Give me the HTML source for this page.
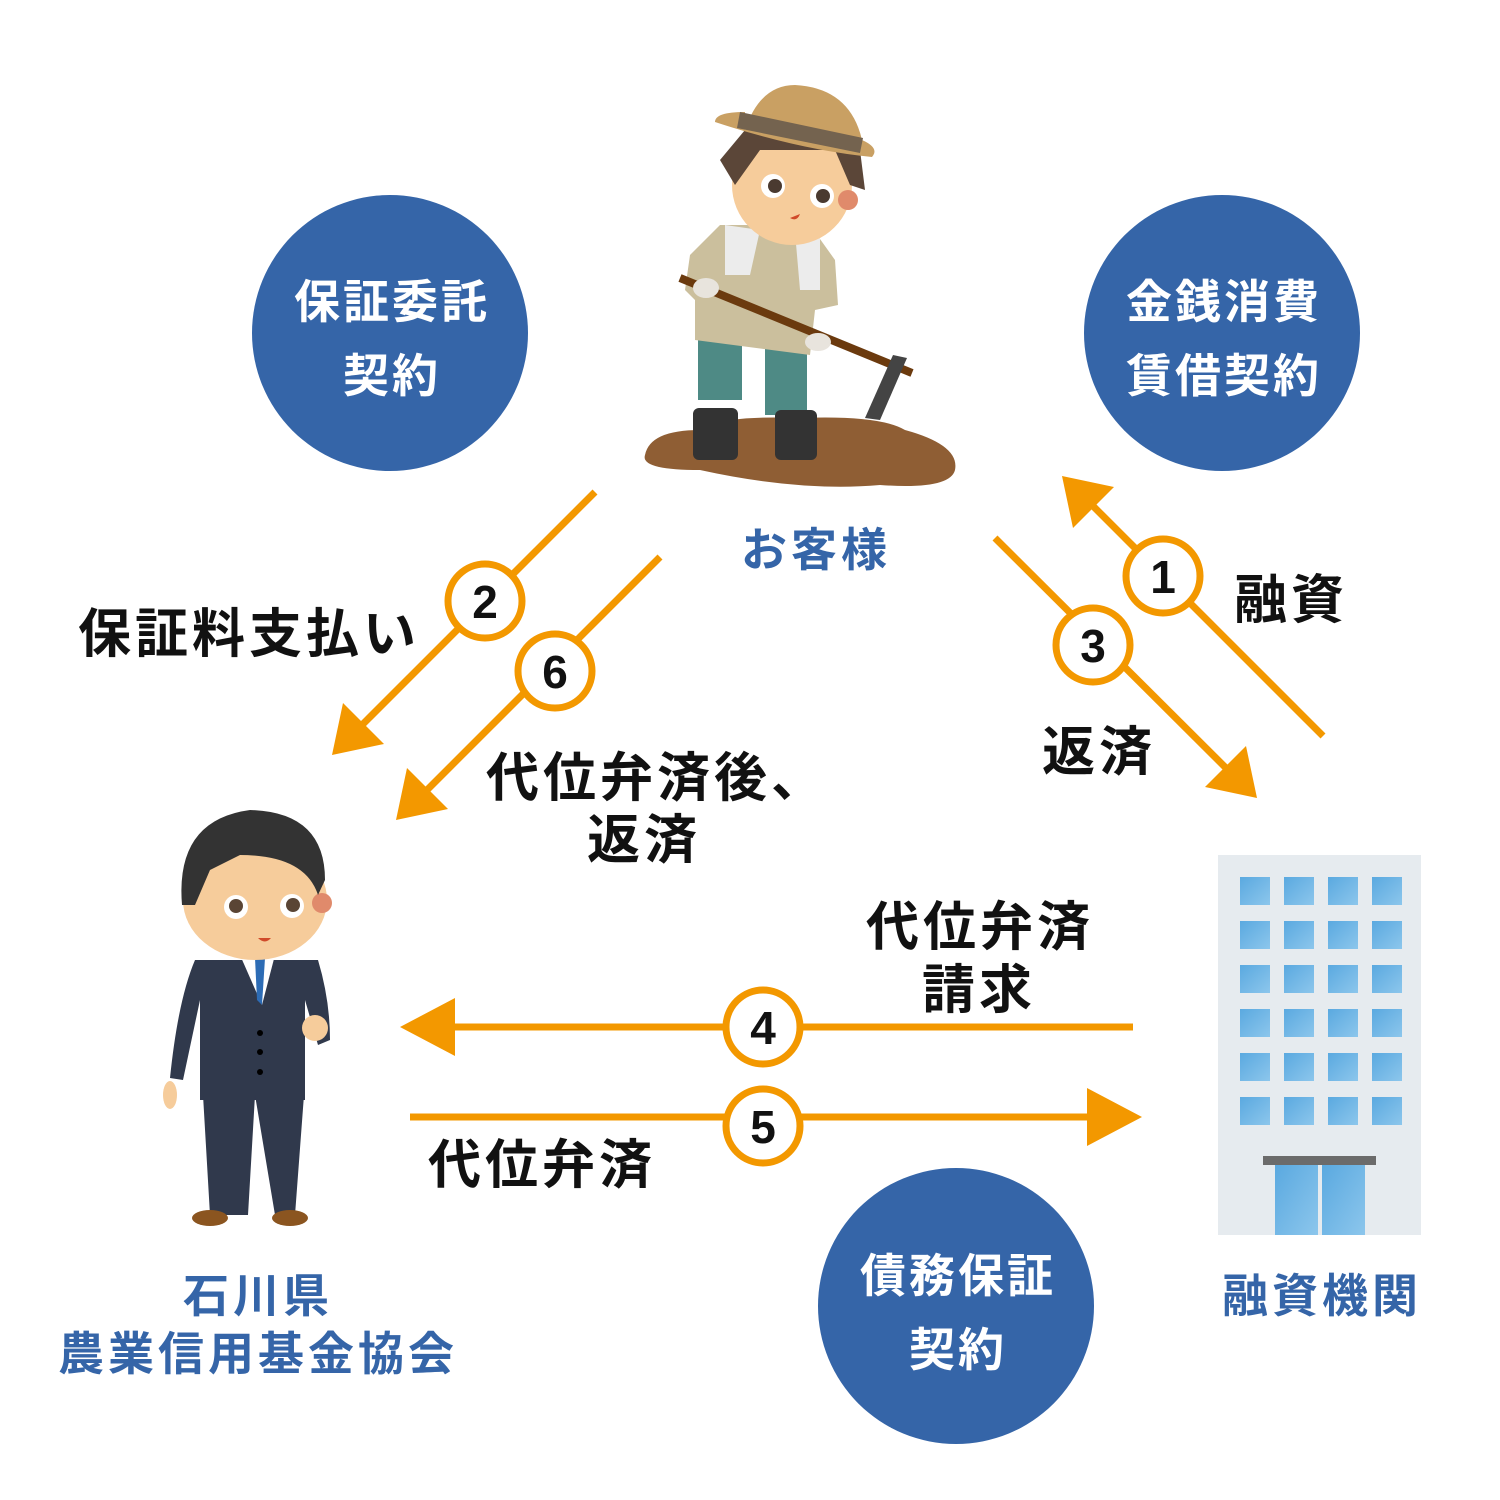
<!DOCTYPE html>
<html><head><meta charset="utf-8"><style>
html,body{margin:0;padding:0;background:#fff}
svg{display:block}
text{font-family:"Liberation Sans","Noto Sans CJK JP",sans-serif;font-weight:bold}
.ls{letter-spacing:4px}
</style></head><body>
<svg width="1500" height="1500" viewBox="0 0 1500 1500" xmlns="http://www.w3.org/2000/svg">
<defs>
<linearGradient id="win" x1="0" y1="0" x2="1" y2="1"><stop offset="0" stop-color="#5aa9e0"/><stop offset="1" stop-color="#8cc6ec"/></linearGradient>
</defs>
<circle cx="390" cy="333" r="138" fill="#3565a8"/>
<circle cx="1222" cy="333" r="138" fill="#3565a8"/>
<circle cx="956" cy="1306" r="138" fill="#3565a8"/>
<g fill="#fff" font-size="46" text-anchor="middle" style="letter-spacing:3px">
<text x="392" y="318">保証委託</text><text x="392" y="392">契約</text>
<text x="1224" y="318">金銭消費</text><text x="1224" y="392">賃借契約</text>
<text x="958" y="1292">債務保証</text><text x="958" y="1366">契約</text>
</g>
<g stroke="#f39800" stroke-width="7" fill="none">
<line x1="595" y1="492" x2="360" y2="727"/>
<line x1="660" y1="557" x2="424" y2="793"/>
<line x1="1323" y1="736" x2="1090" y2="503"/>
<line x1="995" y1="538" x2="1229" y2="771"/>
<line x1="1133" y1="1027" x2="440" y2="1027"/>
<line x1="410" y1="1117" x2="1100" y2="1117"/>
</g>
<g fill="#f39800">
<polygon points="332,755 343,703 384,744"/>
<polygon points="396,820 407,768 448,809"/>
<polygon points="1062,476 1114,487 1073,528"/>
<polygon points="1257,798 1205,787 1246,746"/>
<polygon points="400,1027 455,998 455,1056"/>
<polygon points="1142,1117 1087,1088 1087,1146"/>
</g>
<g fill="#fff" stroke="#f39800" stroke-width="7">
<circle cx="485" cy="601" r="37"/><circle cx="555" cy="671" r="37"/>
<circle cx="1163" cy="576" r="37"/><circle cx="1093" cy="645" r="37"/>
<circle cx="763" cy="1027" r="37"/><circle cx="763" cy="1126" r="37"/>
</g>
<g fill="#111" font-size="46" text-anchor="middle">
<text x="485" y="618">2</text><text x="555" y="688">6</text>
<text x="1163" y="593">1</text><text x="1093" y="662">3</text>
<text x="763" y="1044">4</text><text x="763" y="1143">5</text>
</g>
<g fill="#111" font-size="53" style="letter-spacing:4px">
<text x="78" y="652">保証料支払い</text>
<text x="486" y="796">代位弁済後、</text>
<text x="587" y="858">返済</text>
<text x="1234" y="618">融資</text>
<text x="1042" y="770">返済</text>
<text x="866" y="945">代位弁済</text>
<text x="922" y="1008">請求</text>
<text x="428" y="1183">代位弁済</text>
</g>
<g fill="#3565a8" font-size="46" text-anchor="middle" style="letter-spacing:4px">
<text x="816" y="566">お客様</text>
<text x="258" y="1312">石川県</text>
<text x="258" y="1370">農業信用基金協会</text>
<text x="1322" y="1312">融資機関</text>
</g>
<rect x="1218" y="855" width="203" height="380" fill="#e6ebef"/>
<g fill="url(#win)">
<rect x="1240" y="877" width="30" height="28"/><rect x="1284" y="877" width="30" height="28"/><rect x="1328" y="877" width="30" height="28"/><rect x="1372" y="877" width="30" height="28"/>
<rect x="1240" y="921" width="30" height="28"/><rect x="1284" y="921" width="30" height="28"/><rect x="1328" y="921" width="30" height="28"/><rect x="1372" y="921" width="30" height="28"/>
<rect x="1240" y="965" width="30" height="28"/><rect x="1284" y="965" width="30" height="28"/><rect x="1328" y="965" width="30" height="28"/><rect x="1372" y="965" width="30" height="28"/>
<rect x="1240" y="1009" width="30" height="28"/><rect x="1284" y="1009" width="30" height="28"/><rect x="1328" y="1009" width="30" height="28"/><rect x="1372" y="1009" width="30" height="28"/>
<rect x="1240" y="1053" width="30" height="28"/><rect x="1284" y="1053" width="30" height="28"/><rect x="1328" y="1053" width="30" height="28"/><rect x="1372" y="1053" width="30" height="28"/>
<rect x="1240" y="1097" width="30" height="28"/><rect x="1284" y="1097" width="30" height="28"/><rect x="1328" y="1097" width="30" height="28"/><rect x="1372" y="1097" width="30" height="28"/>
<rect x="1275" y="1165" width="43" height="70"/><rect x="1322" y="1165" width="43" height="70"/>
</g>
<rect x="1263" y="1156" width="113" height="9" fill="#6b6b6b"/>
<path d="M645,455 Q650,430 700,430 Q720,415 800,418 Q880,415 905,430 Q960,445 955,470 Q950,490 880,485 Q800,492 700,470 Q640,470 645,455Z" fill="#8f5e34"/>
<rect x="698" y="340" width="44" height="60" fill="#4e8a85"/>
<rect x="765" y="340" width="42" height="75" fill="#4e8a85"/>
<path d="M690,255 L720,225 L810,225 L835,260 L838,305 L815,310 L810,355 L695,340 L695,300 L685,290Z" fill="#cbbf9d"/>
<path d="M725,225 L760,230 L750,275 L725,275Z M795,232 L820,232 L820,290 L800,290Z" fill="#ececec"/>
<rect x="693" y="408" width="45" height="52" rx="6" fill="#333"/>
<rect x="775" y="410" width="42" height="50" rx="6" fill="#333"/>
<circle cx="792" cy="185" r="60" fill="#f6cc9b"/>
<circle cx="848" cy="200" r="10" fill="#e08a6b"/>
<path d="M720,160 L745,130 L860,150 L865,190 L850,185 L835,150 L760,150 L735,185Z" fill="#5b4638"/>
<circle cx="773" cy="186" r="12" fill="#fff"/><circle cx="775" cy="186" r="7" fill="#4a3a30"/>
<circle cx="822" cy="196" r="12" fill="#fff"/><circle cx="823" cy="196" r="7" fill="#4a3a30"/>
<path d="M790,218 Q797,222 800,214Z" fill="#d04a2a"/>
<path d="M745,130 Q760,85 795,85 Q850,88 862,140 Q880,148 872,157 Q800,150 715,122 Q715,112 745,112Z" fill="#c9a063"/>
<path d="M740,112 L863,138 L860,153 L737,128Z" fill="#74634f"/>
<line x1="680" y1="278" x2="912" y2="373" stroke="#6b3a0e" stroke-width="8"/>
<path d="M893,355 L907,358 L880,420 L865,418Z" fill="#444"/>
<ellipse cx="706" cy="288" rx="13" ry="10" fill="#e8e4dd"/>
<ellipse cx="818" cy="342" rx="13" ry="9" fill="#e8e4dd"/>
<path d="M195,960 L318,960 Q330,1000 330,1040 L318,1045 L305,1000 L305,1100 L200,1100 L200,1000 L183,1080 L170,1078 Q178,1000 195,960Z" fill="#30394c"/>
<path d="M203,1095 L255,1095 L248,1215 L210,1215Z M255,1095 L304,1095 L295,1215 L275,1215Z" fill="#30394c"/>
<path d="M240,955 L275,955 L262,1005Z" fill="#fff"/>
<path d="M255,958 L265,958 L262,1005 L257,1000Z" fill="#2d6cb5"/>
<ellipse cx="210" cy="1218" rx="18" ry="8" fill="#8b5520"/><ellipse cx="290" cy="1218" rx="18" ry="8" fill="#8b5520"/>
<circle cx="315" cy="1028" r="13" fill="#f6cc9b"/>
<ellipse cx="170" cy="1095" rx="7" ry="14" fill="#f6cc9b"/>
<circle cx="260" cy="1033" r="3" fill="#000"/><circle cx="260" cy="1052" r="3" fill="#000"/><circle cx="260" cy="1072" r="3" fill="#000"/>
<ellipse cx="255" cy="900" rx="72" ry="60" fill="#f6cc9b"/>
<circle cx="322" cy="903" r="10" fill="#e08a6b"/>
<path d="M182,905 Q175,820 250,810 Q325,812 325,880 L318,895 Q305,855 240,855 L210,870 L195,905Z" fill="#333"/>
<circle cx="236" cy="907" r="12" fill="#fff"/><circle cx="236" cy="906" r="7" fill="#5a4535"/>
<circle cx="292" cy="906" r="12" fill="#fff"/><circle cx="293" cy="905" r="7" fill="#5a4535"/>
<path d="M258,938 Q265,945 271,938Z" fill="#d04a2a"/>
</svg>
</body></html>
